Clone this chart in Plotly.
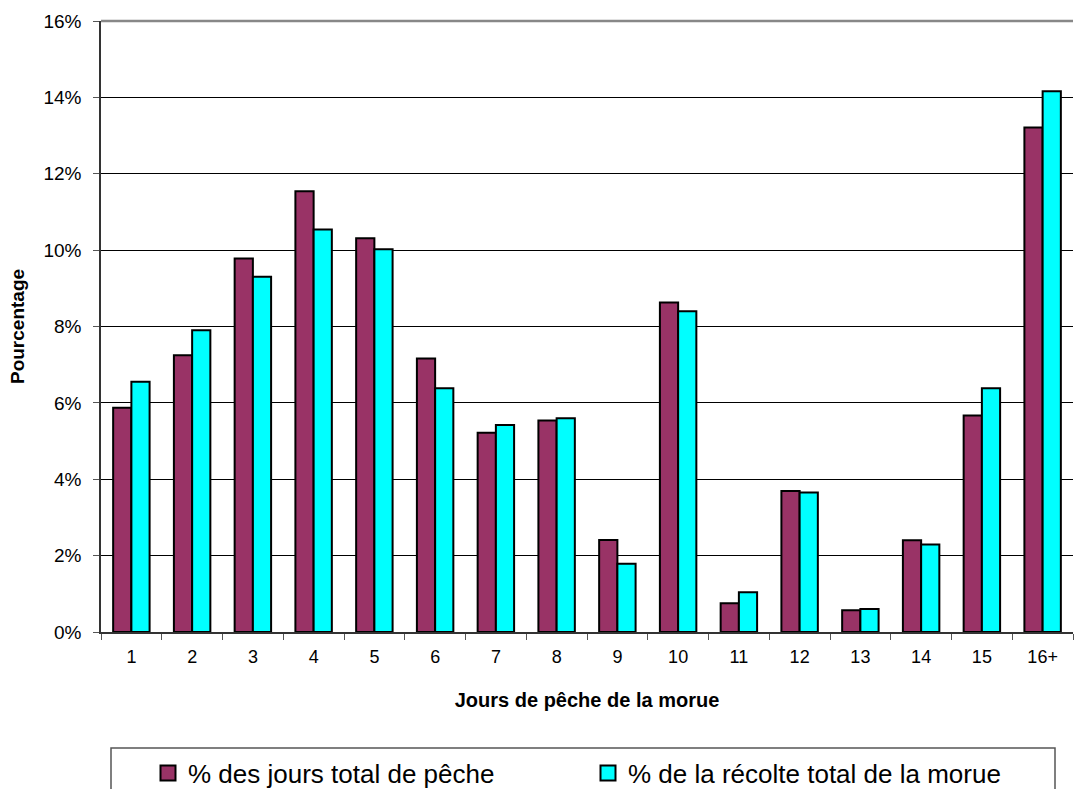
import plotly.graph_objects as go

categories = ["1", "2", "3", "4", "5", "6", "7", "8", "9", "10", "11", "12", "13", "14", "15", "16+"]
jours_peche = [5.87, 7.25, 9.78, 11.54, 10.31, 7.16, 5.22, 5.54, 2.41, 8.63, 0.75, 3.69, 0.57, 2.40, 5.67, 13.21]
recolte_morue = [6.55, 7.90, 9.30, 10.54, 10.02, 6.38, 5.42, 5.60, 1.79, 8.40, 1.04, 3.65, 0.60, 2.29, 6.38, 14.16]
series_names = ["% des jours total de pêche", "% de la récolte total de la morue"]
series_colors = ["#993366", "#00FFFF"]
y_ticks = [0, 2, 4, 6, 8, 10, 12, 14, 16]
y_tick_labels = [f"{v}%" for v in y_ticks]

FONT = "Liberation Sans, Arial, sans-serif"

PLOT_L, PLOT_T, PLOT_W, PLOT_H = 101, 21, 972, 611
# figure slightly taller than the window so the legend (cut by the window
# edge in the original) does not push the bottom margin
FIG_W, FIG_H = 1075, 798


def py(page_y):
    return (PLOT_T + PLOT_H - page_y) / PLOT_H


def px(page_x):
    return (page_x - PLOT_L) / PLOT_W


fig = go.Figure()
for vals, name, color in zip([jours_peche, recolte_morue], series_names, series_colors):
    fig.add_trace(go.Bar(
        x=categories, y=vals, name=name, showlegend=False,
        marker=dict(color=color, line=dict(color="black", width=2)),
    ))

# legend entries (bigger square swatches, like the original)
for i, (name, color) in enumerate(zip(series_names, series_colors)):
    fig.add_trace(go.Scatter(
        x=[None], y=[None], mode="markers", name=name,
        legend="legend" if i == 0 else "legend2",
        marker=dict(symbol="square", size=15, color=color, line=dict(color="black", width=2)),
    ))

legend_common = dict(
    xanchor="left", yanchor="middle", y=py(773),
    font=dict(size=26, family=FONT), bgcolor="rgba(0,0,0,0)",
    borderwidth=0, itemwidth=30, itemsizing="trace",
)

fig.update_layout(
    width=FIG_W, height=FIG_H,
    margin=dict(l=PLOT_L, r=FIG_W - PLOT_L - PLOT_W, t=PLOT_T, b=FIG_H - PLOT_T - PLOT_H),
    paper_bgcolor="white", plot_bgcolor="white",
    barmode="group", bargap=0.4, bargroupgap=0,
    font=dict(family=FONT, color="black", size=17),
    showlegend=True,
    legend=dict(x=px(148), **legend_common),
    legend2=dict(x=px(588), **legend_common),
    xaxis=dict(
        type="category", showgrid=False, showline=True, linecolor="#333333", linewidth=1.5,
        ticks="outside", ticklen=6, tickcolor="#555555", tickson="boundaries",
        tickfont=dict(size=18), range=[-0.5, 15.5], ticklabelstandoff=8,
        title=dict(text="<b>Jours de pêche de la morue</b>", font=dict(size=20), standoff=27),
    ),
    yaxis=dict(
        range=[0, 16], tickvals=y_ticks, ticktext=y_tick_labels,
        showgrid=True, gridcolor="black", gridwidth=1,
        showline=True, linecolor="#333333", linewidth=1.5,
        ticks="outside", ticklen=6, tickcolor="#555555",
        tickfont=dict(size=19), zeroline=False, ticklabelstandoff=8,
        title=dict(text="<b>Pourcentage</b>", font=dict(size=19), standoff=14),
    ),
    shapes=[
        dict(type="line", xref="paper", yref="paper", x0=0, x1=1, y0=1, y1=1,
             line=dict(color="#888888", width=2.5)),
        dict(type="rect", xref="paper", yref="paper",
             x0=px(111), x1=px(1055), y0=py(810), y1=py(748),
             line=dict(color="#555555", width=1.5), fillcolor="rgba(0,0,0,0)"),
    ],
)

fig.write_html(
    "out.html",
    config={"displayModeBar": False},
    post_script="document.documentElement.style.margin='0';document.body.style.margin='0';"
                "document.documentElement.style.overflow='hidden';"
                "document.body.style.overflow='hidden';",
)
